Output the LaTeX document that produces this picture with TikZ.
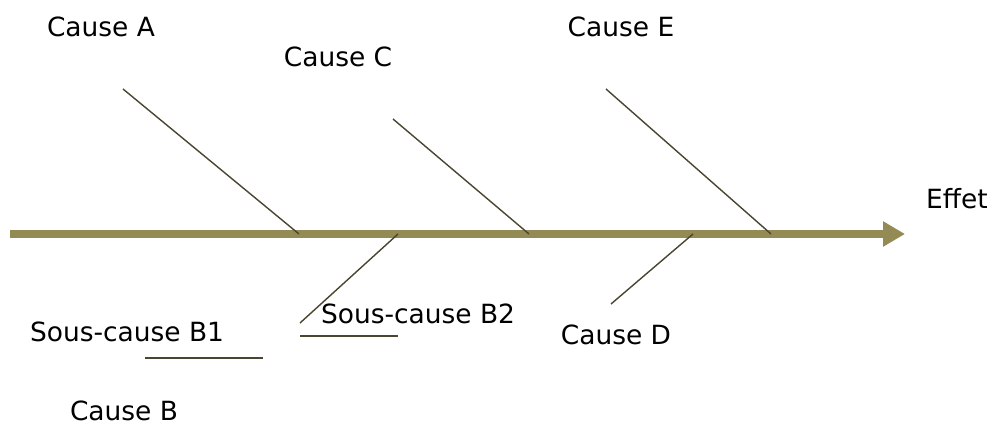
\documentclass[tikz,border=0pt]{standalone}
\usepackage{fontspec}
\setmainfont{DejaVu Sans}
\usetikzlibrary{arrows.meta}
\definecolor{spine}{HTML}{948A54}
\definecolor{bone}{HTML}{4A4530}
\begin{document}
\begin{tikzpicture}[
        x=0.025cm, y=-0.025cm,
        every node/.style={inner sep=0pt, font=\fontsize{18.8}{22}\selectfont},
        spinearrow/.style={draw=spine, line width=5.9pt, -{Triangle[length=15.6pt, width=17pt, fill=spine]}},
        boneline/.style={draw=bone, line width=1pt}
    ]
    \useasboundingbox (0,0) rectangle (992,432);

% Spine
        \coordinate (tail) at (10,234);
        \coordinate (head) at (905,234);
        \draw[spinearrow] (tail) -- (head);

% Labels
        \node (causeA) at (101,27) {Cause A};
        \node (causeC) at (338,57) {Cause C};
        \node (causeE) at (621,27) {Cause E};
        \node (effet) at (957,199) {Effet};
        \node (sousB1) at (127,332) {Sous-cause B1};
        \node (sousB2) at (418,314) {Sous-cause B2};
        \node (causeD) at (616,335) {Cause D};
        \node (causeB) at (124,411) {Cause B};

% Bone ends
        \coordinate (a0) at (123,89);   \coordinate (a1) at (299,234);
        \coordinate (c0) at (393,119);  \coordinate (c1) at (529,234);
        \coordinate (e0) at (606,89);   \coordinate (e1) at (771,234);
        \coordinate (d0) at (611,304);  \coordinate (d1) at (693,234);
        \coordinate (b0) at (300,323);  \coordinate (b1) at (398,234);
        \coordinate (s2a) at (300,336); \coordinate (s2b) at (398,336);
        \coordinate (s1a) at (145,358); \coordinate (s1b) at (263,358);

% Bones
        \draw[boneline] (a0) -- (a1);
        \draw[boneline] (c0) -- (c1);
        \draw[boneline] (e0) -- (e1);
        \draw[boneline] (d0) -- (d1);
        \draw[boneline] (b0) -- (b1);
        \draw[boneline] (s2a) -- (s2b);
        \draw[boneline] (s1a) -- (s1b);

    \end{tikzpicture}
\end{document}
